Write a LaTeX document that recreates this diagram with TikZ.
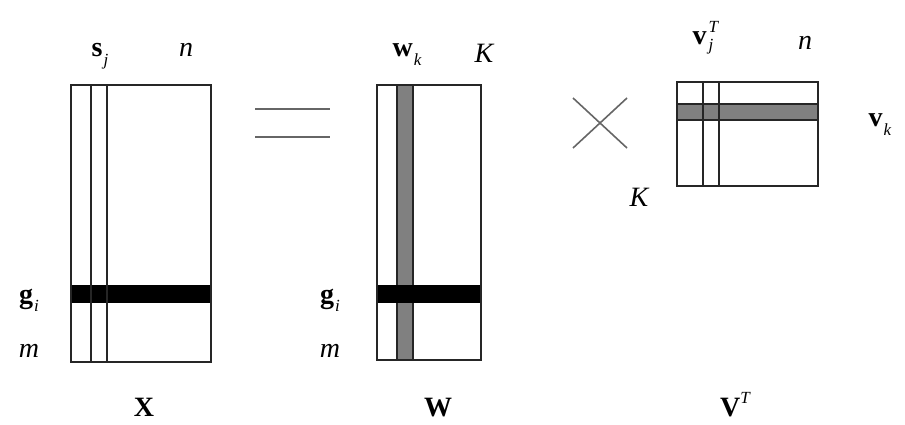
\documentclass[tikz,border=0pt]{standalone}
\usepackage{fontspec}
\setmainfont{Liberation Serif}[ItalicFont={Liberation Serif Italic},BoldFont={Liberation Serif Bold},BoldItalicFont={Liberation Serif Bold Italic}]
\newcommand{\subsz}{\fontsize{17}{17}\selectfont\itshape}
\newcommand{\bsub}[2]{\textbf{#1}\hspace{1pt}\raisebox{-0.32em}{\subsz #2}}
\begin{document}
\begin{tikzpicture}[x=1pt,y=-1pt,
  mat/.style={draw=black!85,line width=1.4pt},
  thin/.style={draw=black!85,line width=1.4pt},
  lbl/.style={inner sep=0pt,anchor=base,font=\fontsize{28}{30}\selectfont},
  op/.style={draw=black!60,line width=1.6pt}]
\useasboundingbox[fill=white] (0,0) rectangle (905,425);
% X matrix
\fill[black] (71,285) rectangle (211,303);
\draw[thin] (91,85) -- (91,362) (107,85) -- (107,362);
\draw[mat] (71,85) rectangle (211,362);
% W matrix
\fill[black!50] (397,85) rectangle (413,360);
\draw[thin] (397,85) -- (397,360) (413,85) -- (413,360);
\fill[black] (377,285) rectangle (481,303);
\draw[mat] (377,85) rectangle (481,360);
% V^T matrix
\fill[black!50] (677,104) rectangle (818,120);
\draw[thin] (677,104) -- (818,104) (677,120) -- (818,120);
\draw[thin] (703,82) -- (703,186) (719,82) -- (719,186);
\draw[mat] (677,82) rectangle (818,186);
% equals and times
\draw[op] (255,109) -- (330,109) (255,137) -- (330,137);
\draw[op] (573,98) -- (627,148) (573,148) -- (627,98);
% labels
\node[lbl] (sj) at (100,57) {\bsub{s}{j}};
\node[lbl] (n1) at (186,57) {\itshape n};
\node[lbl] (wk) at (407,57) {\bsub{w}{k}};
\node[lbl] (K1) at (484,63) {\itshape K};
\node[lbl] (vj) at (703,45) {\textbf{v}\hspace{2pt}\makebox[0pt][l]{\raisebox{0.45em}{\subsz T}}\raisebox{-0.2em}{\subsz j}};
\node[lbl] (n2) at (805,50) {\itshape n};
\node[lbl] (vk) at (880,127) {\bsub{v}{k}};
\node[lbl] (K2) at (639,206) {\itshape K};
\node[lbl] (gi1) at (29,303) {\bsub{g}{i}};
\node[lbl] (m1) at (29,357) {\itshape m};
\node[lbl] (gi2) at (330,303) {\bsub{g}{i}};
\node[lbl] (m2) at (330,357) {\itshape m};
\node[lbl] (X) at (144,416) {\textbf{X}};
\node[lbl] (W) at (438,416) {\textbf{W}};
\node[lbl] (VT) at (735,416) {\textbf{V}\raisebox{0.45em}{\subsz T}};
\end{tikzpicture}
\end{document}
